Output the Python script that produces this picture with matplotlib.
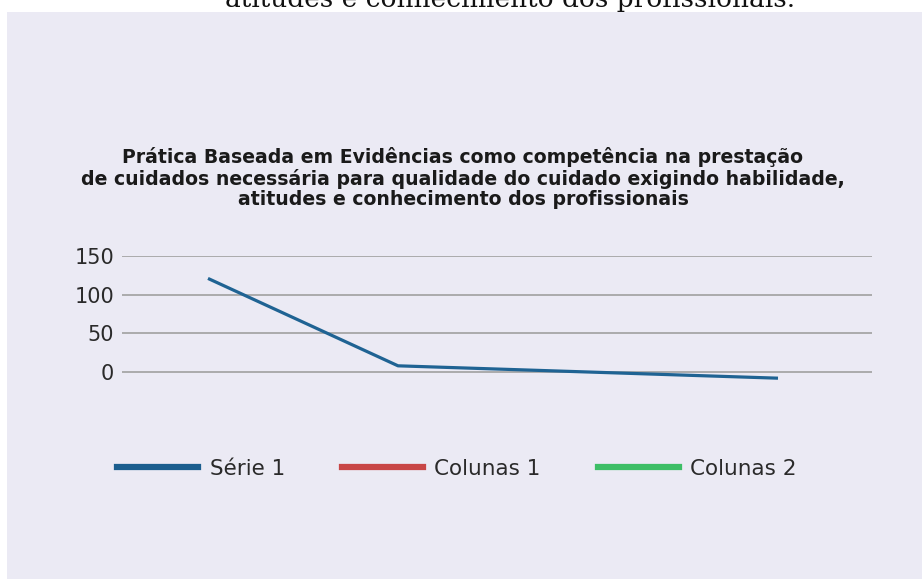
import matplotlib
matplotlib.use("Agg")
import matplotlib.pyplot as plt
from matplotlib.patches import Rectangle
from matplotlib.lines import Line2D

# ---- data ----
categories = ["Cat 1", "Cat 2", "Cat 3", "Cat 4"]
serie1 = [121, 8, 0, -8]
colunas1 = []
colunas2 = []
yticks = [0, 50, 100, 150]
series_labels = ["Série 1", "Colunas 1", "Colunas 2"]
title = ("Prática Baseada em Evidências como competência na prestação\n"
         "de cuidados necessária para qualidade do cuidado exigindo habilidade,\n"
         "atitudes e conhecimento dos profissionais")
top_caption = "atitudes e conhecimento dos profissionais."

W, H = 922, 579
fig = plt.figure(figsize=(W / 100, H / 100), dpi=100)
fig.patch.set_facecolor("white")

# lavender panel
fig.patches.append(Rectangle((7 / W, 0), 1 - 7 / W, 1 - 12 / H,
                             transform=fig.transFigure, facecolor="#EBEAF4",
                             edgecolor="none", zorder=-5))

# clipped caption at the very top
fig.text(510 / W, 1 - 7 / H, top_caption, ha="center", va="baseline",
         family="DejaVu Serif", fontsize=19, color="#111111", zorder=-4)

# axes: 150 at y=256, 0 at y=372 ; x from 122 to 872
px_per_unit = (372 - 256) / 150
ymin, ymax = -20, 150
bottom_px = 372 + (0 - ymin) * px_per_unit
top_px = 256
ax = fig.add_axes([122 / W, 1 - bottom_px / H, (872 - 122) / W, (bottom_px - top_px) / H])
ax.set_zorder(2)
ax.patch.set_alpha(0)
ax.set_ylim(ymin, ymax)
step = 190
ax.set_xlim((122 - 208) / step, (872 - 208) / step)

x = list(range(len(categories)))
ax.plot(x, serie1, color="#1F6393", lw=2.3, solid_capstyle="butt", zorder=3)
ax.plot(colunas1, colunas1, color="#C94444", lw=2.3)
ax.plot(colunas2, colunas2, color="#3CBD66", lw=2.3)

ax.set_yticks(yticks)
ax.set_yticklabels([str(v) for v in yticks], fontsize=15, color="#2a2a2a")
ax.tick_params(axis="y", length=0, pad=5.5)
ax.set_xticks([])
for s in ax.spines.values():
    s.set_visible(False)
ax.grid(axis="y", color="#A6A6A6", lw=1.3)
ax.set_axisbelow(True)

# title
fig.text(463 / W, 1 - 178 / H, title, ha="center", va="center", fontsize=13.6,
         fontweight="bold", color="#1a1a1a", linespacing=1.07, zorder=3)

# legend
handles = [Line2D([], [], color=c, lw=4.5) for c in ["#1B5E8E", "#C84646", "#3DBE66"]]
leg = fig.legend(handles, series_labels, loc="center left",
                 bbox_to_anchor=(117 / W, 1 - 469 / H), ncol=3, frameon=False,
                 fontsize=15.5, handlelength=3.75, handletextpad=0.55,
                 columnspacing=2.65, borderpad=0, borderaxespad=0)
leg.set_zorder(3)
for t in leg.get_texts():
    t.set_color("#2a2a2a")

fig.savefig("out.png", dpi=100, facecolor=fig.get_facecolor())
